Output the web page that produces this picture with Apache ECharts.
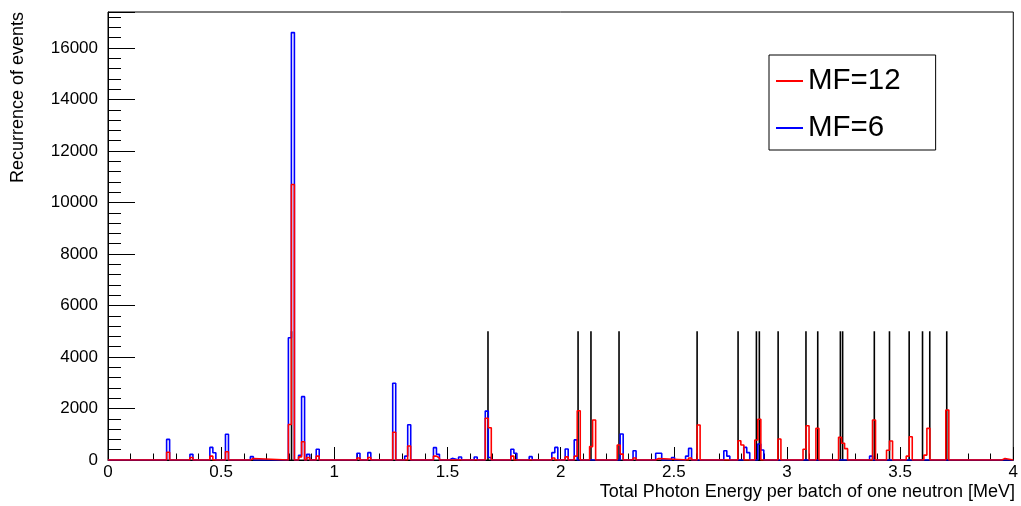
<!DOCTYPE html>
<html>
<head>
<meta charset="utf-8">
<script src="https://cdn.jsdelivr.net/npm/echarts@6/dist/echarts.min.js"></script>
<style>
html,body{margin:0;padding:0;background:#fff;}
#chart{width:1021px;height:506px;}
</style>
</head>
<body>
<div id="chart"></div>
<script>
// ---- data (bin low edge in MeV, counts) ----
const binWidth = 0.0133;
const xRange = [0, 4];
const yMax = 17400;

const mf6Peaks = [
  [0.259, 800], [0.362, 220], [0.450, 490], [0.463, 280], [0.519, 1000],
  [0.629, 130], [0.797, 4750], [0.810, 16600], [0.842, 180], [0.859, 2460],
  [0.878, 220], [0.920, 415], [1.100, 260], [1.148, 285], [1.258, 2980],
  [1.311, 150], [1.324, 1370], [1.438, 480], [1.451, 220], [1.508, 65],
  [1.549, 115], [1.618, 115], [1.667, 1900], [1.680, 100], [1.780, 415],
  [1.793, 260], [1.861, 130], [1.961, 285], [1.974, 490], [2.020, 430],
  [2.060, 780], [2.263, 1010], [2.320, 360], [2.420, 260], [2.433, 260],
  [2.490, 100], [2.552, 150], [2.565, 450], [2.721, 360], [2.734, 150],
  [2.809, 490], [2.822, 285], [2.871, 620], [2.884, 390], [3.365, 150]
];

const mf12Peaks = [
  [0.259, 300], [0.362, 100], [0.450, 150], [0.519, 320], [0.629, 60],
  [0.797, 1380], [0.810, 10700], [0.842, 120], [0.859, 710], [0.878, 100],
  [0.920, 150], [1.100, 80], [1.148, 100], [1.258, 1075], [1.324, 545],
  [1.438, 150], [1.451, 80], [1.667, 1620], [1.680, 1250], [1.780, 150],
  [1.961, 80], [2.020, 120], [2.060, 150], [2.074, 1915], [2.128, 520],
  [2.141, 1553], [2.250, 580], [2.263, 230], [2.320, 80], [2.420, 60],
  [2.565, 80], [2.603, 1360], [2.783, 750], [2.796, 580], [2.858, 775],
  [2.871, 1580], [2.960, 815], [3.071, 415], [3.084, 1333], [3.128, 1230],
  [3.228, 880], [3.241, 650], [3.254, 440], [3.378, 1553], [3.440, 380],
  [3.453, 738], [3.527, 150], [3.540, 905], [3.605, 190], [3.618, 1230],
  [3.702, 1940], [3.950, 60]
];

const refLines = [0.811, 1.679, 2.077, 2.134, 2.258, 2.603, 2.784, 2.865, 2.878,
  2.961, 3.084, 3.136, 3.236, 3.246, 3.386, 3.453, 3.540, 3.599, 3.631, 3.706];
const refHeight = 5000;

const seriesNames = ['MF=12', 'MF=6'];
const xTitle = 'Total Photon Energy per batch of one neutron [MeV]';
const yTitle = 'Recurrence of events';

// ---- build histogram outlines (step polylines) ----
function outline(peaks) {
  const sorted = peaks.slice().sort((a, b) => a[0] - b[0]);
  const pts = [[xRange[0], 0]];
  let prevHi = null;
  for (const [e, c] of sorted) {
    let lo = e;
    if (prevHi !== null && Math.abs(lo - prevHi) < binWidth * 0.5) {
      lo = prevHi;
      pts.push([lo, c]);
    } else {
      if (prevHi !== null) pts.push([prevHi, 0]);
      pts.push([lo, 0]);
      pts.push([lo, c]);
    }
    const hi = lo + binWidth;
    pts.push([hi, c]);
    prevHi = hi;
  }
  if (prevHi !== null) pts.push([prevHi, 0]);
  pts.push([xRange[1], 0]);
  return pts;
}

const FONT = 'Liberation Sans, Arial, Helvetica, sans-serif';
const chart = echarts.init(document.getElementById('chart'), null, {renderer: 'canvas'});

chart.setOption({
  animation: false,
  backgroundColor: '#ffffff',
  grid: {left: 108, right: 6, top: 12, bottom: 46, show: true, borderColor: '#000', borderWidth: 1, backgroundColor: 'transparent'},
  xAxis: {
    type: 'value', min: xRange[0], max: xRange[1], interval: 0.5,
    axisLine: {show: true, onZero: false, lineStyle: {color: '#000', width: 1}},
    axisTick: {show: true, inside: true, length: 13, lineStyle: {color: '#000', width: 1}},
    minorTick: {show: true, splitNumber: 5, length: 6.5, lineStyle: {color: '#000', width: 1}},
    axisLabel: {color: '#000', fontFamily: FONT, fontSize: 17, margin: 4, formatter: v => String(v)},
    splitLine: {show: false}
  },
  yAxis: {
    type: 'value', min: 0, max: yMax, interval: 2000,
    axisLine: {show: true, lineStyle: {color: '#000', width: 1}},
    axisTick: {show: true, inside: true, length: 27, lineStyle: {color: '#000', width: 1}},
    minorTick: {show: true, splitNumber: 5, length: 13, lineStyle: {color: '#000', width: 1}},
    axisLabel: {color: '#000', fontFamily: FONT, fontSize: 17, margin: 10, showMaxLabel: false, formatter: v => String(v)},
    splitLine: {show: false}
  },
  legend: {
    data: seriesNames,
    orient: 'vertical',
    left: 769, top: 55,
    padding: [11, 35, 7, 7],
    itemGap: 17,
    itemWidth: 27, itemHeight: 2,
    icon: 'rect',
    backgroundColor: '#fff',
    borderColor: '#000', borderWidth: 1,
    textStyle: {color: '#000', fontFamily: FONT, fontSize: 29.5}
  },
  graphic: [
    {type: 'text', x: 1015, y: 492, style: {text: xTitle, fill: '#000', font: '18px ' + FONT, textAlign: 'right', textVerticalAlign: 'middle'}},
    {type: 'text', x: 18, y: 12, rotation: Math.PI / 2, style: {text: yTitle, fill: '#000', font: '18px ' + FONT, textAlign: 'right', textVerticalAlign: 'middle'}}
  ],
  series: [
    {
      name: 'ref', type: 'custom', z: 1,
      data: refLines.map(e => [e, refHeight]),
      renderItem: function (params, api) {
        const p0 = api.coord([api.value(0), 0]);
        const p1 = api.coord([api.value(0), api.value(1)]);
        return {type: 'line', shape: {x1: p0[0], y1: p0[1], x2: p1[0], y2: p1[1]}, style: {stroke: '#000', lineWidth: 1.6}};
      }
    },
    {
      name: seriesNames[1], type: 'line', z: 2,
      data: outline(mf6Peaks),
      showSymbol: false, symbol: 'none',
      color: '#0000ff',
      lineStyle: {color: '#0000ff', width: 1.6}
    },
    {
      name: seriesNames[0], type: 'line', z: 3,
      data: outline(mf12Peaks),
      showSymbol: false, symbol: 'none',
      color: '#ff0000',
      lineStyle: {color: '#ff0000', width: 1.6}
    }
  ]
});
</script>
</body>
</html>
